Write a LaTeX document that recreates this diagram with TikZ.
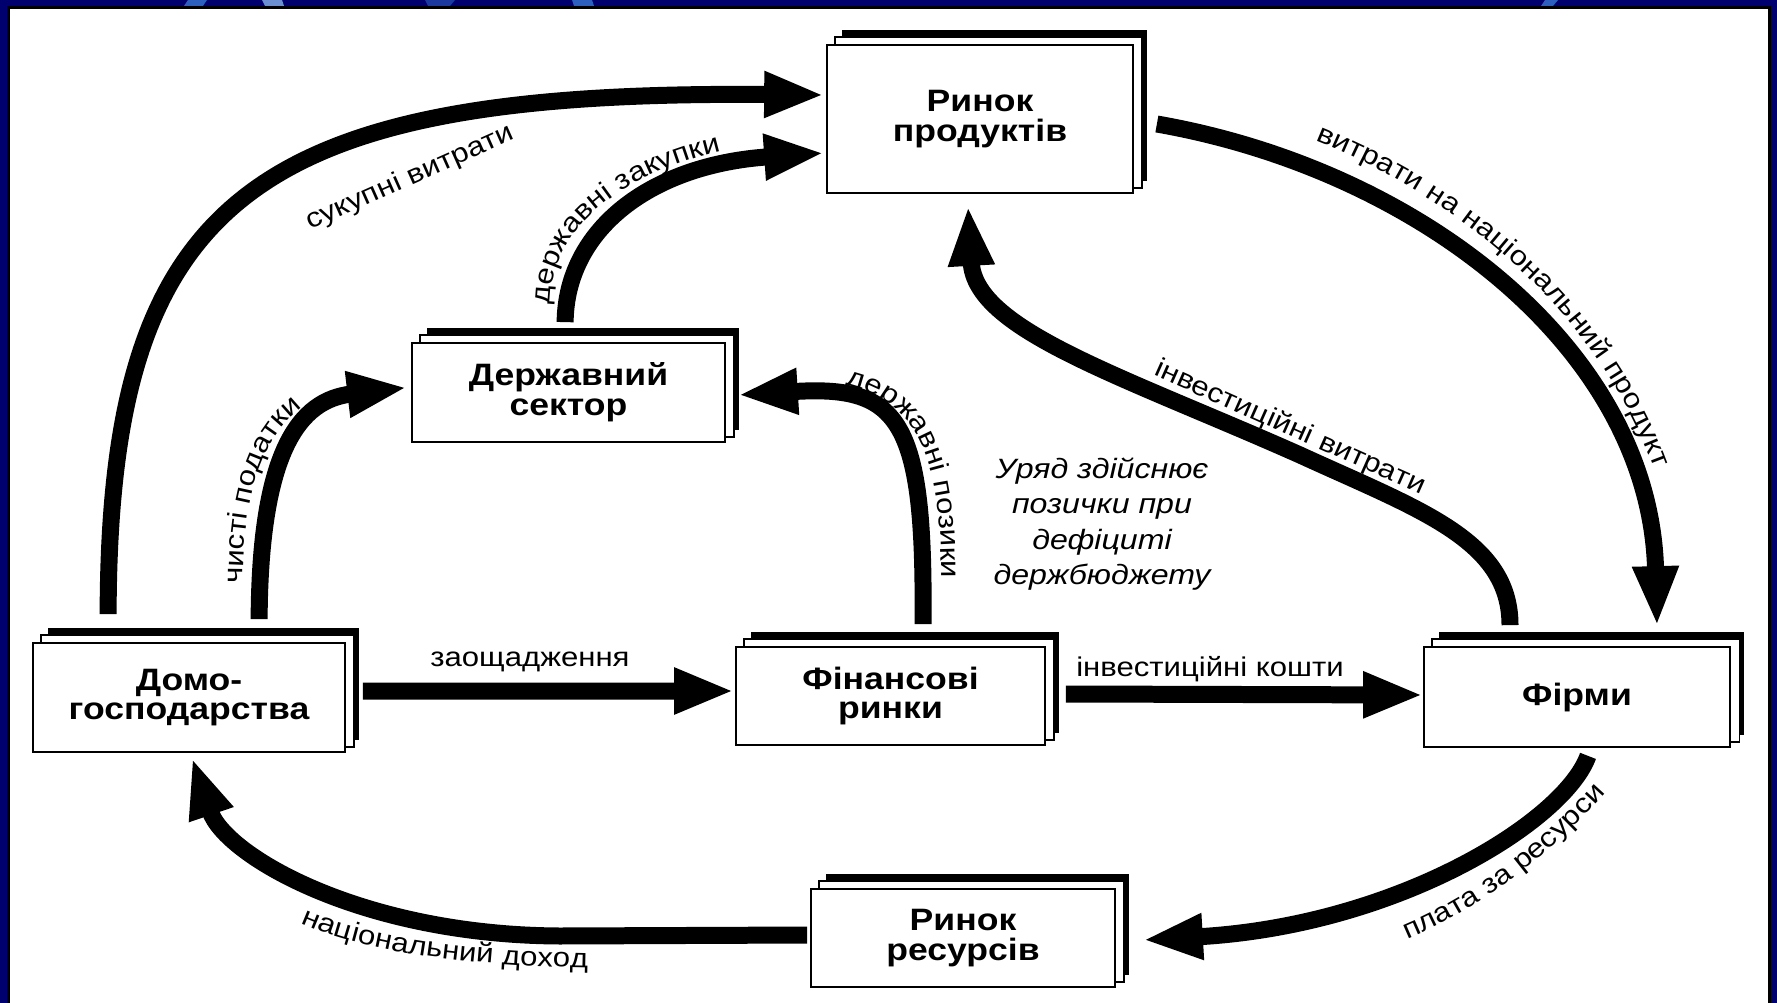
\documentclass[tikz,border=0pt]{standalone}
\usepackage{fontspec}
\setmainfont{Liberation Sans}[FakeStretch=1.15]
\usetikzlibrary{arrows.meta,calc,fit,decorations.text}
\definecolor{navy}{RGB}{0,0,110}
\definecolor{deco}{RGB}{45,95,190}
\newcommand{\boxfont}{\fontsize{17.6pt}{17pt}\selectfont\bfseries}
\newcommand{\lblfont}{\fontsize{15.4pt}{18pt}\selectfont}
\newcommand{\itfont}{\fontsize{15.9pt}{20.2pt}\selectfont\itshape}
\tikzset{
  flow/.style={line width=0.34cm, -{Triangle[length=1.2cm,width=0.85cm]}},
  front/.style={draw=black, line width=1pt, fill=white, inner sep=0pt},
  boxtxt/.style={font=\boxfont, align=center, inner sep=0pt},
  lbl/.style={font=\lblfont, inner sep=0pt},
}
\newcommand{\stackedbox}[6]{%
  \fill[black] (#2+15,#3-15) rectangle (#4+14,#5-12);
  \filldraw[fill=white,draw=black,line width=0.6pt] (#2+8,#3-8) rectangle (#4+9,#5-5);
  \node[front, fit={(#2,#3) (#4,#5)}] (#1) {};
  \node[boxtxt] (#1-t) at (#1.center) {#6};
}
\begin{document}
\begin{tikzpicture}[x=0.02cm,y=-0.02cm]
\useasboundingbox (0,0) rectangle (1777,1003);
% frame
\fill[navy] (0,0) rectangle (1777,1003);
\fill[black] (7,6) rectangle (1771,1003);
\fill[white] (10,9) rectangle (1768,1003);
\fill[deco] (188,0) -- (207,0) -- (203,6) -- (184,6) -- cycle;
\fill[deco!70] (262,0) -- (282,0) -- (284,6) -- (265,6) -- cycle;
\fill[deco!60!navy] (425,0) -- (455,0) -- (450,6) -- (428,6) -- cycle;
\fill[deco] (572,0) -- (592,0) -- (594,6) -- (574,6) -- cycle;
\fill[deco] (1545,0) -- (1558,0) -- (1553,6) -- (1541,6) -- cycle;
% boxes
\stackedbox{P}{827}{45}{1133}{193}{Ринок\\продуктів}
\stackedbox{G}{412}{343}{725}{442}{Державний\\сектор}
\stackedbox{H}{33}{643}{345}{752}{Домо-\\господарства}
\stackedbox{F}{736}{647}{1045}{745}{Фінансові\\ринки}
\stackedbox{Fi}{1424}{647}{1730}{747}{Фірми}
\stackedbox{R}{811}{889}{1115}{987}{Ринок\\ресурсів}
% connectors
\draw[flow] ($(H.north west)+(76,-28)$) .. controls (109,200) and (250,90) .. ($(P.west)+(-2,-24)$);
\draw[flow] ($(G.north west)+(154,-20)$) .. controls (566,230) and (650,165) .. ($(P.west)+(-2,34)$);
\draw[flow] ($(H.north west)+(227,-23)$) .. controls (260,450) and (300,400) .. ($(G.west)+(-4,-5)$);
\draw[flow] ($(F.north)+(32.5,-22)$) .. controls (925,420) and (900,385) .. ($(G.east)+(12,2.5)$);
\draw[flow] ($(H.east)+(17,-6.5)$) -- ($(F.west)+(-1,-5)$);
\draw[flow] ($(F.east)+(20,-2)$) -- ($(Fi.west)+(0,-2)$);
\draw[flow] ($(Fi.north)+(-67,-21)$) .. controls (1510,540) and (1420,510) .. (1300,455)
   .. controls (1120,375) and (975,330) .. ($(P.south)+(-12,12)$);
\draw[flow] ($(P.east)+(23,5)$) .. controls (1420,170) and (1650,350) .. ($(Fi.north)+(80,-20)$);
\draw[flow] ($(Fi.south)+(11,8)$) .. controls (1565,820) and (1400,925) .. ($(R.east)+(27,2)$);
\draw[flow] ($(R.west)+(-3,-3)$) -- (560,936) .. controls (360,935) and (225,855) .. ($(H.south)+(3,5)$);
% labels
\node[lbl, rotate=24] (l1) at (410,178) {сукупні витрати};
\path[decorate, decoration={text along path, text align=left,
   text={|\lblfont|державні закупки}}]
   (550,305) .. controls (550,220) and (640,148) .. (824,136);
\path[decorate, decoration={text along path, text align=left,
   text={|\lblfont|чисті податки}}]
   (243,584) .. controls (243,445) and (285,386) .. (406,370);
\path[decorate, decoration={text along path, text align={left, left indent=2.2cm},
   text={|\lblfont|державні позики}}]
   (736,378) .. controls (905,370) and (950,411) .. (940,625);
\node[lbl] (l5) at (530,662) {заощадження};
\node[lbl] (l6) at (1210,669) {інвестиційні кошти};
\node[lbl, rotate=-24] (l7) at (1290,428) {інвестиційні витрати};
\path[decorate, decoration={text along path, text align=center,
   text={|\lblfont|витрати на національний продукт}}]
   (1160,98) .. controls (1428,139) and (1679,339) .. (1683,626);
\path[decorate, decoration={text along path, text align={right, right indent=0.6cm},
   text={|\lblfont|плата за ресурси}}]
   (1300,965) .. controls (1420,958) and (1545,870) .. (1625,770);
\path[decorate, decoration={text along path, text align={right, right indent=0.24cm},
   text={|\lblfont|національний доход}}]
   (250,890) .. controls (300,940) and (420,966) .. (600,968);
\node[font=\itfont, align=center, inner sep=0pt] (note) at (1102,524)
   {Уряд здійснює\\позички при\\дефіциті\\держбюджету};
\end{tikzpicture}
\end{document}
